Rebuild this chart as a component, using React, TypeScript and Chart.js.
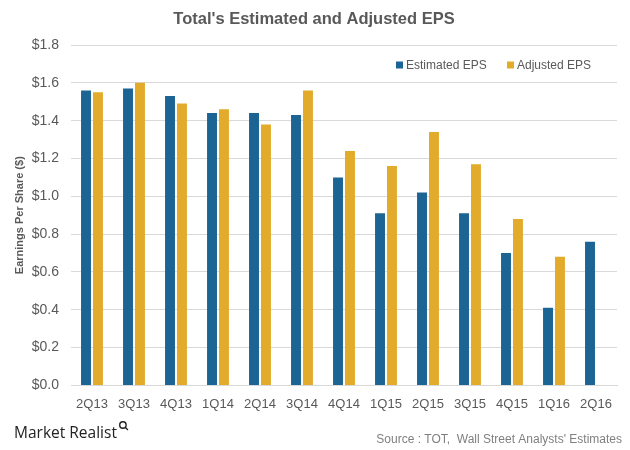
import React, { useEffect, useRef } from "react";
import { Chart, registerables } from "chart.js";

Chart.register(...registerables);

const quarters = ["2Q13", "3Q13", "4Q13", "1Q14", "2Q14", "3Q14", "4Q14", "1Q15", "2Q15", "3Q15", "4Q15", "1Q16", "2Q16"];
const estimatedEPS = [1.56, 1.57, 1.53, 1.44, 1.44, 1.43, 1.10, 0.91, 1.02, 0.91, 0.70, 0.41, 0.76];
const adjustedEPS: (number | null)[] = [1.55, 1.60, 1.49, 1.46, 1.38, 1.56, 1.24, 1.16, 1.34, 1.17, 0.88, 0.68, null];
const yTicks = [0, 0.2, 0.4, 0.6, 0.8, 1.0, 1.2, 1.4, 1.6, 1.8];

const TITLE = "Total's Estimated and Adjusted EPS";
const SOURCE = "Source : TOT,  Wall Street Analysts' Estimates";
const BRAND = "Market Realist";
const BLUE = "#1b6493";
const GOLD = "#e2ab2b";
const FONT = "'Liberation Sans', Arial, sans-serif";

const decorations = {
  id: "decorations",
  afterDraw(chart: any) {
    const ctx = chart.ctx as CanvasRenderingContext2D;
    ctx.save();
    // title
    ctx.fillStyle = "#595959";
    ctx.font = `bold 16.5px ${FONT}`;
    ctx.textAlign = "center";
    ctx.textBaseline = "middle";
    ctx.fillText(TITLE, 314, 19);

    // legend
    ctx.font = `12px ${FONT}`;
    ctx.textAlign = "left";
    const items = chart.data.datasets.map((d: any) => ({ label: d.label, color: d.backgroundColor }));
    let x = 396;
    const y = 65;
    items.forEach((it: any, i: number) => {
      ctx.fillStyle = it.color;
      ctx.fillRect(x, y - 3.5, 7, 7);
      ctx.fillStyle = "#595959";
      ctx.fillText(it.label, x + 10, y + 0.5);
      x += i === 0 ? 111 : 0;
    });

    // source
    ctx.fillStyle = "#808080";
    ctx.font = `12px ${FONT}`;
    ctx.textAlign = "right";
    ctx.fillText(SOURCE, 622, 440);

    // brand
    ctx.fillStyle = "#222222";
    ctx.font = `15.5px 'Open Sans', ${FONT}`;
    ctx.textAlign = "left";
    ctx.fillText(BRAND, 14, 434);
    const w = ctx.measureText(BRAND).width;
    ctx.strokeStyle = "#222222";
    ctx.lineWidth = 1.4;
    ctx.beginPath();
    ctx.arc(14 + w + 6, 425, 3.2, 0, Math.PI * 2);
    ctx.stroke();
    ctx.beginPath();
    ctx.moveTo(14 + w + 8.3, 427.3);
    ctx.lineTo(14 + w + 11, 430);
    ctx.stroke();
    ctx.restore();
  },
};

export default function App() {
  const ref = useRef<HTMLCanvasElement | null>(null);
  useEffect(() => {
    if (!ref.current) return;
    const chart = new Chart(ref.current, {
      type: "bar",
      data: {
        labels: quarters,
        datasets: [
          { label: "Estimated EPS", data: estimatedEPS, backgroundColor: BLUE, categoryPercentage: 0.57, barPercentage: 0.83 },
          { label: "Adjusted EPS", data: adjustedEPS, backgroundColor: GOLD, categoryPercentage: 0.57, barPercentage: 0.83 },
        ],
      },
      options: {
        responsive: false,
        animation: false,
        layout: { padding: { top: 45, right: 13, bottom: 27, left: 13 } },
        plugins: {
          legend: { display: false },
          title: { display: false },
          tooltip: { enabled: false },
        },
        scales: {
          x: {
            grid: { display: false, drawTicks: false },
            border: { display: true, color: "#d9d9d9" },
            ticks: { color: "#595959", font: { family: FONT, size: 13 }, padding: 11, maxRotation: 0, autoSkip: false },
          },
          y: {
            min: 0,
            max: 1.8,
            afterBuildTicks: (axis: any) => {
              axis.ticks = yTicks.map((v) => ({ value: v }));
            },
            afterFit: (axis: any) => {
              axis.width = 58;
            },
            grid: { color: "#d9d9d9", drawTicks: false },
            border: { display: false },
            ticks: {
              color: "#595959",
              font: { family: FONT, size: 14 },
              padding: 12,
              callback: (v: any) => "$" + Number(v).toFixed(1),
            },
            title: {
              display: true,
              text: "Earnings Per Share ($)",
              color: "#595959",
              font: { family: FONT, size: 11, weight: "bold" },
              padding: { top: 0, bottom: 4 },
            },
          },
        },
      },
      plugins: [decorations],
    });
    return () => chart.destroy();
  }, []);
  return (
    <div style={{ position: "fixed", left: 0, top: 0, width: 630, height: 450, background: "#fff" }}>
      <canvas ref={ref} width={630} height={450} />
    </div>
  );
}
